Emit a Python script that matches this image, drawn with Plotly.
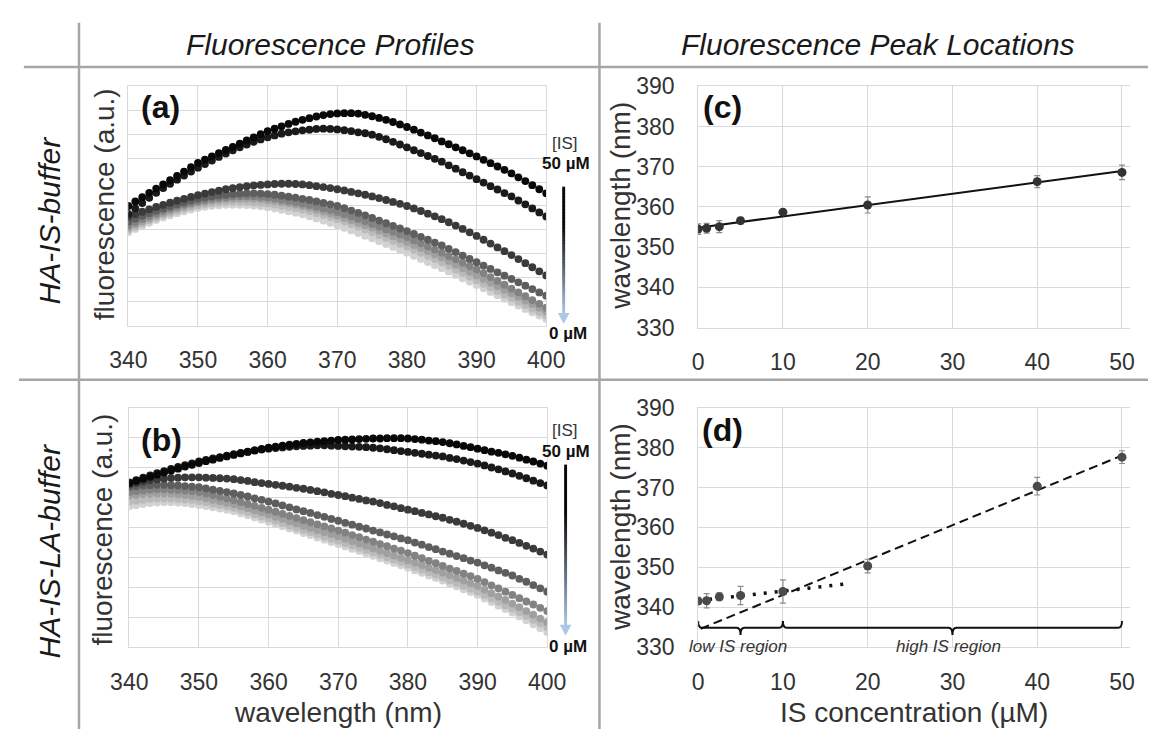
import numpy as np
import plotly.graph_objects as go

W, H = 1167, 742
FONT = "Liberation Sans, Arial, sans-serif"
TXT = "#333333"
GRID = "#d9d9d9"
RULE = "#a6a6a6"

# ---------------- data ----------------
wavelength_nm = list(range(340, 401))
conc_uM = [0, 1, 2.5, 5, 10, 20, 40, 50]
series_colors = ["#d2d2d2", "#bababa", "#a0a0a0", "#828282", "#5e5e5e", "#3a3a3a", "#1a1a1a", "#080808"]

# (a) HA-IS-buffer emission spectra (a.u.), one list per IS concentration
fl_a_0 = [3.90, 4.04, 4.17, 4.30, 4.41, 4.52, 4.61, 4.70, 4.78, 4.85, 4.92, 4.97, 5.01, 5.03, 5.05, 5.05, 5.05, 5.04, 5.02, 4.99,
          4.95, 4.90, 4.84, 4.78, 4.72, 4.65, 4.57, 4.48, 4.39, 4.30, 4.20, 4.09, 3.98, 3.87, 3.76, 3.65, 3.53, 3.41, 3.29, 3.17,
          3.05, 2.92, 2.79, 2.66, 2.53, 2.40, 2.26, 2.12, 1.98, 1.84, 1.70, 1.56, 1.41, 1.27, 1.12, 0.98, 0.84, 0.70, 0.56, 0.42, 0.28]
fl_a_1 = [4.00, 4.14, 4.27, 4.40, 4.51, 4.62, 4.71, 4.80, 4.88, 4.95, 5.02, 5.07, 5.11, 5.14, 5.17, 5.18, 5.18, 5.17, 5.15, 5.13,
          5.10, 5.06, 5.01, 4.96, 4.91, 4.85, 4.78, 4.70, 4.62, 4.54, 4.45, 4.35, 4.24, 4.13, 4.02, 3.90, 3.78, 3.66, 3.54, 3.42,
          3.30, 3.17, 3.04, 2.91, 2.78, 2.65, 2.50, 2.35, 2.20, 2.05, 1.90, 1.75, 1.60, 1.45, 1.30, 1.15, 1.00, 0.86, 0.71, 0.57, 0.42]
fl_a_2p5 = [4.10, 4.23, 4.36, 4.48, 4.59, 4.70, 4.80, 4.89, 4.97, 5.05, 5.12, 5.17, 5.22, 5.26, 5.28, 5.30, 5.31, 5.31, 5.30, 5.28,
            5.25, 5.21, 5.16, 5.11, 5.06, 5.00, 4.93, 4.85, 4.77, 4.69, 4.60, 4.50, 4.40, 4.30, 4.20, 4.10, 3.98, 3.86, 3.74, 3.62,
            3.50, 3.37, 3.24, 3.11, 2.98, 2.85, 2.70, 2.55, 2.40, 2.25, 2.10, 1.95, 1.80, 1.65, 1.50, 1.35, 1.20, 1.05, 0.90, 0.75, 0.60]
fl_a_5 = [4.20, 4.33, 4.46, 4.58, 4.69, 4.80, 4.89, 4.98, 5.06, 5.13, 5.20, 5.25, 5.30, 5.34, 5.37, 5.40, 5.41, 5.41, 5.40, 5.38,
          5.35, 5.31, 5.26, 5.21, 5.16, 5.10, 5.04, 4.97, 4.90, 4.83, 4.75, 4.66, 4.56, 4.46, 4.36, 4.25, 4.14, 4.03, 3.92, 3.81,
          3.70, 3.57, 3.44, 3.31, 3.18, 3.05, 2.91, 2.77, 2.63, 2.49, 2.35, 2.19, 2.03, 1.87, 1.71, 1.55, 1.39, 1.23, 1.07, 0.91, 0.75]
fl_a_10 = [4.35, 4.47, 4.59, 4.70, 4.80, 4.90, 4.99, 5.07, 5.15, 5.23, 5.30, 5.35, 5.40, 5.44, 5.47, 5.50, 5.52, 5.53, 5.53, 5.52,
           5.50, 5.47, 5.43, 5.39, 5.35, 5.30, 5.25, 5.19, 5.13, 5.07, 5.00, 4.91, 4.81, 4.71, 4.61, 4.50, 4.39, 4.28, 4.17, 4.06,
           3.95, 3.83, 3.71, 3.59, 3.47, 3.35, 3.21, 3.07, 2.93, 2.79, 2.65, 2.51, 2.37, 2.23, 2.09, 1.95, 1.81, 1.67, 1.53, 1.39, 1.25]
fl_a_20 = [4.55, 4.66, 4.76, 4.86, 4.96, 5.05, 5.14, 5.22, 5.30, 5.38, 5.45, 5.52, 5.58, 5.64, 5.70, 5.75, 5.79, 5.83, 5.86, 5.88,
           5.90, 5.92, 5.93, 5.93, 5.92, 5.90, 5.87, 5.83, 5.79, 5.75, 5.70, 5.65, 5.59, 5.53, 5.47, 5.40, 5.33, 5.25, 5.17, 5.09,
           5.00, 4.90, 4.79, 4.68, 4.57, 4.45, 4.32, 4.18, 4.04, 3.90, 3.75, 3.59, 3.43, 3.27, 3.11, 2.95, 2.78, 2.61, 2.44, 2.27, 2.10]
fl_a_40 = [4.67, 4.90, 5.12, 5.34, 5.55, 5.75, 5.93, 6.10, 6.27, 6.44, 6.60, 6.75, 6.90, 7.05, 7.19, 7.33, 7.45, 7.57, 7.68, 7.78,
           7.87, 7.95, 8.02, 8.08, 8.12, 8.16, 8.19, 8.22, 8.23, 8.22, 8.20, 8.17, 8.13, 8.08, 8.04, 7.98, 7.89, 7.79, 7.68, 7.57,
           7.45, 7.33, 7.21, 7.09, 6.97, 6.85, 6.70, 6.56, 6.41, 6.27, 6.12, 5.98, 5.83, 5.69, 5.54, 5.40, 5.23, 5.07, 4.90, 4.73, 4.56]
fl_a_50 = [5.00, 5.19, 5.37, 5.55, 5.73, 5.90, 6.08, 6.26, 6.44, 6.62, 6.80, 6.94, 7.07, 7.21, 7.34, 7.47, 7.61, 7.74, 7.87, 8.00,
           8.13, 8.23, 8.33, 8.43, 8.52, 8.60, 8.67, 8.74, 8.80, 8.84, 8.87, 8.88, 8.88, 8.86, 8.81, 8.75, 8.68, 8.60, 8.51, 8.41,
           8.30, 8.19, 8.07, 7.95, 7.83, 7.70, 7.58, 7.45, 7.33, 7.20, 7.07, 6.93, 6.79, 6.65, 6.51, 6.36, 6.20, 6.04, 5.87, 5.70, 5.53]

# (b) HA-IS-LA-buffer emission spectra (a.u.)
fl_b_0 = [4.70, 4.74, 4.78, 4.81, 4.83, 4.84, 4.84, 4.83, 4.81, 4.78, 4.75, 4.71, 4.67, 4.63, 4.59, 4.54, 4.47, 4.40, 4.33, 4.26,
          4.19, 4.11, 4.04, 3.96, 3.89, 3.81, 3.74, 3.66, 3.59, 3.51, 3.44, 3.36, 3.28, 3.21, 3.13, 3.05, 2.97, 2.89, 2.81, 2.73,
          2.65, 2.56, 2.48, 2.39, 2.31, 2.22, 2.12, 2.03, 1.93, 1.84, 1.74, 1.62, 1.50, 1.38, 1.27, 1.15, 1.02, 0.89, 0.76, 0.63, 0.50]
fl_b_1 = [4.86, 4.89, 4.92, 4.95, 4.96, 4.97, 4.96, 4.95, 4.93, 4.91, 4.88, 4.84, 4.79, 4.75, 4.70, 4.65, 4.58, 4.51, 4.44, 4.37,
          4.30, 4.22, 4.14, 4.06, 3.99, 3.91, 3.84, 3.77, 3.69, 3.62, 3.55, 3.47, 3.39, 3.32, 3.24, 3.16, 3.08, 3.00, 2.92, 2.84,
          2.76, 2.67, 2.59, 2.50, 2.42, 2.33, 2.23, 2.14, 2.04, 1.95, 1.85, 1.74, 1.62, 1.51, 1.39, 1.28, 1.16, 1.04, 0.91, 0.79, 0.67]
fl_b_2p5 = [5.05, 5.08, 5.11, 5.12, 5.13, 5.13, 5.12, 5.10, 5.08, 5.05, 5.02, 4.97, 4.92, 4.87, 4.82, 4.77, 4.70, 4.64, 4.57, 4.50,
            4.43, 4.35, 4.28, 4.20, 4.13, 4.05, 3.98, 3.91, 3.84, 3.77, 3.70, 3.62, 3.54, 3.46, 3.38, 3.30, 3.22, 3.14, 3.06, 2.98,
            2.90, 2.82, 2.74, 2.65, 2.57, 2.49, 2.40, 2.31, 2.22, 2.13, 2.04, 1.92, 1.80, 1.69, 1.57, 1.45, 1.33, 1.20, 1.08, 0.95, 0.83]
fl_b_5 = [5.18, 5.21, 5.24, 5.26, 5.27, 5.27, 5.26, 5.25, 5.23, 5.21, 5.18, 5.13, 5.08, 5.02, 4.97, 4.91, 4.85, 4.78, 4.72, 4.65,
          4.59, 4.52, 4.45, 4.38, 4.31, 4.24, 4.17, 4.10, 4.03, 3.96, 3.89, 3.82, 3.74, 3.67, 3.59, 3.52, 3.44, 3.37, 3.29, 3.22,
          3.14, 3.05, 2.97, 2.88, 2.80, 2.71, 2.62, 2.54, 2.45, 2.37, 2.28, 2.17, 2.06, 1.96, 1.85, 1.74, 1.63, 1.52, 1.42, 1.31, 1.20]
fl_b_10 = [5.34, 5.37, 5.40, 5.41, 5.42, 5.42, 5.41, 5.40, 5.38, 5.36, 5.34, 5.30, 5.26, 5.22, 5.18, 5.13, 5.08, 5.03, 4.97, 4.92,
           4.86, 4.80, 4.73, 4.67, 4.60, 4.54, 4.48, 4.41, 4.35, 4.28, 4.22, 4.15, 4.09, 4.02, 3.96, 3.89, 3.83, 3.76, 3.70, 3.63,
           3.57, 3.49, 3.42, 3.34, 3.27, 3.19, 3.12, 3.04, 2.97, 2.89, 2.82, 2.73, 2.65, 2.56, 2.48, 2.39, 2.28, 2.18, 2.07, 1.96, 1.85]
fl_b_20 = [5.43, 5.48, 5.53, 5.57, 5.60, 5.63, 5.65, 5.66, 5.67, 5.67, 5.67, 5.66, 5.65, 5.64, 5.63, 5.61, 5.58, 5.55, 5.51, 5.48,
           5.45, 5.42, 5.39, 5.36, 5.32, 5.29, 5.25, 5.21, 5.17, 5.12, 5.08, 5.04, 4.99, 4.95, 4.90, 4.86, 4.81, 4.75, 4.70, 4.64,
           4.59, 4.54, 4.48, 4.43, 4.37, 4.32, 4.25, 4.19, 4.12, 4.05, 3.98, 3.90, 3.82, 3.74, 3.65, 3.57, 3.48, 3.38, 3.29, 3.19, 3.09]
fl_b_40 = [5.50, 5.58, 5.66, 5.74, 5.81, 5.88, 5.95, 6.02, 6.08, 6.14, 6.20, 6.25, 6.30, 6.35, 6.40, 6.45, 6.49, 6.53, 6.57, 6.60,
           6.63, 6.65, 6.67, 6.69, 6.71, 6.72, 6.73, 6.74, 6.74, 6.73, 6.72, 6.71, 6.70, 6.69, 6.68, 6.66, 6.64, 6.61, 6.58, 6.55,
           6.52, 6.49, 6.46, 6.43, 6.40, 6.37, 6.32, 6.28, 6.23, 6.18, 6.13, 6.07, 6.00, 5.94, 5.87, 5.80, 5.72, 5.64, 5.56, 5.48, 5.40]
fl_b_50 = [5.48, 5.55, 5.62, 5.69, 5.76, 5.83, 5.90, 5.96, 6.03, 6.09, 6.15, 6.21, 6.26, 6.32, 6.37, 6.42, 6.47, 6.52, 6.57, 6.62,
           6.66, 6.70, 6.73, 6.76, 6.79, 6.82, 6.84, 6.86, 6.88, 6.90, 6.92, 6.93, 6.94, 6.95, 6.96, 6.97, 6.97, 6.98, 6.98, 6.98,
           6.97, 6.95, 6.93, 6.90, 6.88, 6.85, 6.81, 6.77, 6.72, 6.68, 6.63, 6.58, 6.53, 6.49, 6.44, 6.39, 6.33, 6.26, 6.20, 6.13, 6.06]

# (c), (d) emission peak wavelength vs IS concentration (mean, error)
peak_c_nm = [354.5, 354.7, 355.1, 356.6, 358.7, 360.5, 366.3, 368.6]
peak_c_err = [1.3, 1.2, 1.5, 0.8, 0.6, 2.0, 1.5, 1.8]
peak_d_nm = [341.5, 341.6, 342.6, 342.9, 343.9, 350.3, 370.3, 377.6]
peak_d_err = [0.8, 1.8, 1.0, 2.3, 2.9, 1.7, 2.2, 1.6]

spectra_a = [fl_a_0, fl_a_1, fl_a_2p5, fl_a_5, fl_a_10, fl_a_20, fl_a_40, fl_a_50]
spectra_b = [fl_b_0, fl_b_1, fl_b_2p5, fl_b_5, fl_b_10, fl_b_20, fl_b_40, fl_b_50]


# ---------------- helpers ----------------
def px(x):
    return x / W


def py(y):
    return 1 - y / H


fig = go.Figure()

for xa, ya, spectra in (("x", "y", spectra_a), ("x2", "y2", spectra_b)):
    for conc, col, vals in zip(conc_uM, series_colors, spectra):
        fig.add_trace(go.Scatter(
            x=wavelength_nm, y=vals, mode="markers", name=f"{conc} µM",
            marker=dict(size=7.8, color=col, line=dict(width=0)),
            xaxis=xa, yaxis=ya, showlegend=False, hoverinfo="skip"))

# (c) linear trend over all concentrations
slope_c, icpt_c = np.polyfit(conc_uM, peak_c_nm, 1)
fit_c_x = [0, 50]
fig.add_trace(go.Scatter(x=fit_c_x, y=[icpt_c + slope_c * v for v in fit_c_x], mode="lines",
                         line=dict(color="#111111", width=2), xaxis="x3", yaxis="y3", showlegend=False))
fig.add_trace(go.Scatter(x=conc_uM, y=peak_c_nm, mode="markers",
                         marker=dict(size=9, color="#333333"),
                         error_y=dict(type="data", array=peak_c_err, color="#8c8c8c", thickness=1.2, width=3),
                         xaxis="x3", yaxis="y3", showlegend=False))

# (d) separate trends for the low (<=10 µM) and high (>=10 µM) regions
low_x = [c for c in conc_uM if c <= 10]
low_y = [v for c, v in zip(conc_uM, peak_d_nm) if c <= 10]
high_x = [c for c in conc_uM if c >= 10]
high_y = [v for c, v in zip(conc_uM, peak_d_nm) if c >= 10]
slope_lo, icpt_lo = np.polyfit(low_x, low_y, 1)
slope_hi, icpt_hi = np.polyfit(high_x, high_y, 1)
fit_lo_x = [0, 18]
fit_hi_x = [0.3, 50]
fig.add_trace(go.Scatter(x=fit_hi_x, y=[icpt_hi + slope_hi * v for v in fit_hi_x], mode="lines",
                         line=dict(color="#111111", width=2, dash="9px,5px"), xaxis="x4", yaxis="y4", showlegend=False))
fig.add_trace(go.Scatter(x=fit_lo_x, y=[icpt_lo + slope_lo * v for v in fit_lo_x], mode="lines",
                         line=dict(color="#111111", width=3.5, dash="3px,8px"), xaxis="x4", yaxis="y4", showlegend=False))
fig.add_trace(go.Scatter(x=conc_uM, y=peak_d_nm, mode="markers",
                         marker=dict(size=9, color="#4a4a4a"),
                         error_y=dict(type="data", array=peak_d_err, color="#8c8c8c", thickness=1.2, width=3),
                         xaxis="x4", yaxis="y4", showlegend=False))


# ---------------- axes ----------------
def axis(**kw):
    d = dict(showgrid=True, gridcolor=GRID, gridwidth=1, zeroline=False,
             showline=True, linecolor=GRID, linewidth=1,
             tickfont=dict(family=FONT, size=23, color=TXT),
             ticks="outside", tickcolor="rgba(0,0,0,0)", fixedrange=True)
    d.update(kw)
    return d


wl_ticks = [340, 350, 360, 370, 380, 390, 400]
conc_ticks = [0, 10, 20, 30, 40, 50]
nm_ticks = [330, 340, 350, 360, 370, 380, 390]

fig.update_layout(
    width=W, height=H, margin=dict(l=0, r=0, t=0, b=0),
    paper_bgcolor="white", plot_bgcolor="white", showlegend=False,
    xaxis=axis(domain=[px(113), px(545)], range=[340, 400], tickvals=wl_ticks, anchor="y", mirror=True, ticklen=14),
    yaxis=axis(domain=[py(324), py(76)], range=[0, 10], dtick=1, showticklabels=False, ticks="", anchor="x", mirror=True),
    xaxis2=axis(domain=[px(114), px(546)], range=[340, 400], tickvals=wl_ticks, anchor="y2", mirror=True, ticklen=14),
    yaxis2=axis(domain=[py(657), py(409)], range=[0, 8], dtick=1, showticklabels=False, ticks="", anchor="x2", mirror=True),
    xaxis3=axis(domain=[px(702), px(1148)], range=[0, 50.9], tickvals=conc_ticks, anchor="y3", mirror=True, ticklen=14),
    yaxis3=axis(domain=[py(326), py(76)], range=[330, 390], tickvals=nm_ticks, anchor="x3", ticklen=18),
    xaxis4=axis(domain=[px(702), px(1148)], range=[0, 50.9], tickvals=conc_ticks, anchor="y4", mirror=True, ticklen=14),
    yaxis4=axis(domain=[py(657), py(409)], range=[330, 390], tickvals=nm_ticks, anchor="x4", ticklen=18),
)

# ---------------- text ----------------
ann = []


def text(x, y, s, size, rot=0, bold=False, italic=False, color=TXT, xanchor="center", xref="paper", yref="paper"):
    t = s
    if bold:
        t = f"<b>{t}</b>"
    if italic:
        t = f"<i>{t}</i>"
    ann.append(dict(x=x if xref != "paper" else px(x), y=y if yref != "paper" else py(y),
                    xref=xref, yref=yref, text=t, showarrow=False, textangle=rot,
                    xanchor=xanchor, yanchor="middle",
                    font=dict(family=FONT, size=size, color=color)))


text(321, 33, "Fluorescence Profiles", 30, italic=True, color="#1a1a1a")
text(888, 33, "Fluorescence Peak Locations", 30, italic=True, color="#1a1a1a")
text(31, 215, "HA-IS-buffer", 30, rot=-90, italic=True, color="#1a1a1a")
text(31, 558, "HA-IS-LA-buffer", 30, rot=-90, italic=True, color="#1a1a1a")

text(88, 198, "fluorescence (a.u.)", 28, rot=-90)
text(86, 535, "fluorescence (a.u.)", 28, rot=-90)
text(330, 725, "wavelength (nm)", 28)
text(622, 200, "wavelength (nm)", 28, rot=-90)
text(622, 533, "wavelength (nm)", 28, rot=-90)
text(925, 725, "IS concentration (µM)", 28)

text(146, 97, "(a)", 32, bold=True, color="#111111")
text(147, 442, "(b)", 32, bold=True, color="#111111")
text(727, 97, "(c)", 32, bold=True, color="#111111")
text(727, 432, "(d)", 32, bold=True, color="#111111")

# concentration key beside the spectra
for top, zero in ((135, 332), (433, 657)):
    text(564, top, "[IS]", 17, color="#333333")
    text(565, top + 21, "50 µM", 17, bold=True, color="#111111")
    text(567, zero, "0 µM", 17, bold=True, color="#111111")

text(4.7, 330, "low IS region", 17, italic=True, xref="x4", yref="y4")
text(29.5, 330, "high IS region", 17, italic=True, xref="x4", yref="y4")

fig.update_layout(annotations=ann)

# ---------------- shapes ----------------
shapes = []
# table rules
for x0, y0, x1, y1 in ((62, 10, 62, 742), (600, 10, 600, 742), (5, 56, 1167, 56), (0, 380, 1167, 380)):
    shapes.append(dict(type="line", xref="paper", yref="paper", x0=px(x0), y0=py(y0), x1=px(x1), y1=py(y1),
                       line=dict(color=RULE, width=2.5), layer="below"))


# gradient arrows (black -> pale blue)
def mix(t):
    a = np.array([8, 8, 8])
    b = np.array([172, 198, 230])
    u = 0 if t < 0.3 else (t - 0.3) / 0.7
    c = (a + (b - a) * u).astype(int)
    return f"rgb({c[0]},{c[1]},{c[2]})"


for xc, tail, tip in ((563, 180, 322), (565, 468, 645)):
    head = 11
    shaft_end = tip - head
    n = 40
    for k in range(n):
        ya0 = tail + (shaft_end - tail) * k / n
        ya1 = tail + (shaft_end - tail) * (k + 1) / n + 0.6
        shapes.append(dict(type="rect", xref="paper", yref="paper", x0=px(xc - 1.5), x1=px(xc + 1.5),
                           y0=py(ya1), y1=py(ya0), line=dict(width=0), fillcolor=mix((k + 0.5) / n)))
    shapes.append(dict(type="path", xref="paper", yref="paper",
                       path=f"M {px(xc - 6)},{py(shaft_end)} L {px(xc + 6)},{py(shaft_end)} L {px(xc)},{py(tip)} Z",
                       fillcolor="rgb(172,198,230)", line=dict(width=0)))


# region braces in (d)
def brace(x0, x1, xm, yb=334.8, yu=336.5, yd=333.0, r=0.45):
    return (f"M {x0},{yu} Q {x0},{yb} {x0 + r},{yb} L {xm - r},{yb} Q {xm},{yb} {xm},{yd} "
            f"Q {xm},{yb} {xm + r},{yb} L {x1 - r},{yb} Q {x1},{yb} {x1},{yu}")


for x0, x1, xm in ((0, 10, 5), (10, 50, 30)):
    shapes.append(dict(type="path", xref="x4", yref="y4", path=brace(x0, x1, xm),
                       line=dict(color="#111111", width=2)))

fig.update_layout(shapes=shapes)

fig.write_html("out.html")
